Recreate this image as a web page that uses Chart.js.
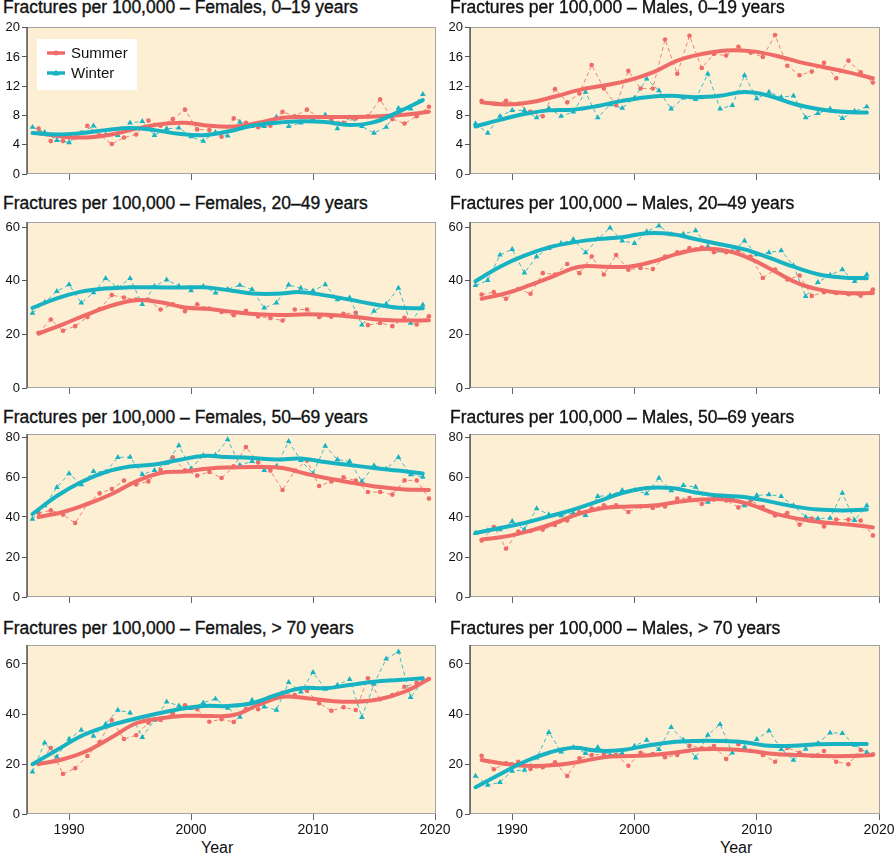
<!DOCTYPE html>
<html>
<head>
<meta charset="utf-8">
<script src="https://cdn.jsdelivr.net/npm/chart.js@4.4.0/dist/chart.umd.min.js"></script>
<style>
  body { margin: 0; background: #fff; width: 894px; height: 854px; position: relative; overflow: hidden;
         font-family: "Liberation Sans", Arial, sans-serif; }
  .title { position: absolute; font-size: 17.5px; line-height: 20px; color: #111; white-space: nowrap;
           -webkit-text-stroke: 0.35px #111; }
  .xlab { position: absolute; font-size: 16px; line-height: 20px; color: #111; }
  canvas { position: absolute; }
</style>
</head>
<body>
<script>
// x positions: winter points on the year, summer points mid-year
const winterYears = [1987, 1988, 1989, 1990, 1991, 1992, 1993, 1994, 1995, 1996, 1997, 1998, 1999, 2000, 2001, 2002, 2003,
  2004, 2005, 2006, 2007, 2008, 2009, 2010, 2011, 2012, 2013, 2014, 2015, 2016, 2017, 2018, 2019];
const summerYears = [1987.5, 1988.5, 1989.5, 1990.5, 1991.5, 1992.5, 1993.5, 1994.5, 1995.5, 1996.5, 1997.5, 1998.5, 1999.5,
  2000.5, 2001.5, 2002.5, 2003.5, 2004.5, 2005.5, 2006.5, 2007.5, 2008.5, 2009.5, 2010.5, 2011.5, 2012.5, 2013.5, 2014.5,
  2015.5, 2016.5, 2017.5, 2018.5, 2019.5];
// smoothed curves read every second year
const fitWinterYears = [1987, 1989, 1991, 1993, 1995, 1997, 1999, 2001, 2003, 2005, 2007, 2009, 2011, 2013, 2015, 2017, 2019];
const fitSummerYears = [1987.5, 1989.5, 1991.5, 1993.5, 1995.5, 1997.5, 1999.5, 2001.5, 2003.5, 2005.5, 2007.5, 2009.5,
  2011.5, 2013.5, 2015.5, 2017.5, 2019.5];

const yearTicks = [1990, 2000, 2010, 2020];
const yTicks0_19 = [0, 4, 8, 12, 16, 20];
const yTicks20_49 = [0, 20, 40, 60];
const yTicks50_69 = [0, 20, 40, 60, 80];
const yTicks70 = [0, 20, 40, 60];
const seriesLabels = ["Summer", "Winter"];
const panelTitles = [
  "Fractures per 100,000 – Females, 0–19 years",
  "Fractures per 100,000 – Males, 0–19 years",
  "Fractures per 100,000 – Females, 20–49 years",
  "Fractures per 100,000 – Males, 20–49 years",
  "Fractures per 100,000 – Females, 50–69 years",
  "Fractures per 100,000 – Males, 50–69 years",
  "Fractures per 100,000 – Females, > 70 years",
  "Fractures per 100,000 – Males, > 70 years",
];

// Females 0-19
const femSummer0_19 = [6.2, 4.5, 4.5, 5.0, 6.6, 5.3, 4.1, 5.0, 5.4, 7.3, 6.6, 7.5, 8.8, 6.1, 6.0, 5.1, 7.6, 7.0, 6.4, 6.6,
  8.5, 7.9, 8.8, 7.8, 7.4, 7.0, 7.6, 7.9, 10.2, 7.5, 6.9, 7.9, 9.2];
const femWinter0_19 = [6.4, 5.7, 4.6, 4.3, 5.6, 6.6, 5.4, 5.3, 7.0, 7.2, 5.3, 6.2, 6.3, 5.1, 4.5, 5.7, 5.2, 7.1, 6.5, 6.5,
  7.8, 6.5, 7.0, 7.5, 8.1, 6.2, 7.7, 6.5, 5.6, 6.4, 9.0, 8.9, 10.9];
const femSummerFit0_19 = [5.6, 5.1, 5.0, 5.4, 6.2, 6.8, 7.0, 6.6, 6.5, 7.0, 7.7, 7.8, 7.8, 7.8, 7.9, 8.1, 8.5];
const femWinterFit0_19 = [5.6, 5.4, 5.6, 6.0, 6.3, 6.0, 5.5, 5.3, 5.8, 6.6, 7.0, 7.2, 7.1, 6.7, 7.1, 8.5, 10.1];

// Males 0-19
const maleSummer0_19 = [10.0, 9.6, 10.0, 9.6, 8.5, 7.9, 11.6, 9.8, 11.0, 14.9, 11.7, 9.4, 14.1, 11.7, 11.7, 18.4, 13.7, 18.9,
  14.5, 16.4, 16.2, 17.4, 16.6, 16.0, 19.0, 14.8, 13.5, 14.0, 15.2, 13.1, 15.5, 13.9, 12.5];
const maleWinter0_19 = [6.9, 5.6, 7.9, 8.7, 8.7, 7.7, 9.0, 7.9, 8.5, 11.2, 7.7, 9.5, 9.0, 10.4, 13.0, 11.4, 8.9, 10.4, 10.2,
  13.7, 8.9, 9.4, 13.5, 10.3, 11.2, 10.5, 10.7, 7.7, 8.3, 8.9, 7.6, 8.6, 9.2];
const maleSummerFit0_19 = [9.8, 9.5, 9.8, 10.6, 11.5, 12.1, 12.8, 13.9, 15.5, 16.4, 16.9, 16.8, 16.2, 15.3, 14.6, 13.9, 13.1];
const maleWinterFit0_19 = [6.5, 7.4, 8.2, 8.7, 8.8, 9.3, 10.0, 10.5, 10.7, 10.5, 10.7, 11.2, 10.7, 9.6, 8.9, 8.5, 8.4];

// Females 20-49
const femSummer20_49 = [20.6, 25.6, 21.4, 23.1, 26.5, 29.5, 34.7, 33.8, 33.0, 32.9, 29.3, 31.3, 28.7, 31.3, 29.7, 28.4, 27.2,
  28.8, 26.7, 26.1, 25.2, 29.3, 29.3, 26.5, 26.6, 27.7, 28.1, 23.5, 24.3, 23.1, 26.2, 23.7, 26.8];
const femWinter20_49 = [28.0, 32.0, 36.1, 38.6, 31.8, 35.6, 41.0, 37.4, 41.0, 31.2, 38.0, 40.4, 38.1, 36.4, 38.0, 35.5, 36.9,
  38.4, 36.8, 29.9, 31.8, 38.5, 37.3, 36.3, 38.6, 33.0, 33.7, 23.6, 28.7, 31.4, 37.3, 24.2, 31.1];
const femSummerFit20_49 = [20.3, 23.8, 27.5, 30.8, 32.8, 32.0, 30.1, 29.5, 28.4, 27.5, 27.3, 27.5, 27.3, 26.5, 25.5, 25.2, 25.3];
const femWinterFit20_49 = [29.9, 33.5, 36.0, 37.2, 37.6, 37.6, 37.5, 37.6, 36.6, 35.3, 35.2, 35.8, 34.6, 33.0, 31.3, 30.0, 29.8];

// Males 20-49
const maleSummer20_49 = [34.9, 35.8, 33.3, 37.0, 35.2, 42.9, 42.4, 46.3, 42.9, 49.1, 42.4, 49.7, 44.2, 44.8, 44.4, 49.1, 50.7,
  52.3, 52.5, 50.7, 50.7, 51.3, 49.1, 41.1, 44.2, 40.5, 42.0, 34.4, 35.8, 35.5, 35.0, 34.5, 36.8];
const maleWinter20_49 = [38.3, 40.2, 49.7, 51.8, 43.0, 49.1, 52.2, 54.0, 55.5, 50.6, 55.6, 59.8, 55.0, 54.0, 58.4, 60.6, 57.3,
  57.5, 58.8, 52.8, 51.3, 50.9, 55.0, 49.8, 50.6, 51.3, 45.7, 34.2, 39.5, 42.2, 44.2, 39.8, 42.4];
const maleSummerFit20_49 = [33.3, 35.4, 38.5, 42.0, 45.3, 45.3, 45.3, 47.2, 50.1, 51.9, 51.3, 48.2, 43.5, 38.9, 36.4, 35.4, 35.5];
const maleWinterFit20_49 = [39.9, 45.3, 49.4, 52.5, 54.4, 55.6, 56.3, 57.8, 57.5, 55.6, 53.7, 51.8, 48.7, 45.3, 42.5, 41.3, 41.0];

// Females 50-69
const femSummer50_69 = [42.0, 43.3, 41.2, 37.0, 46.5, 51.8, 54.0, 58.2, 56.3, 57.8, 63.5, 69.8, 63.3, 60.7, 62.5, 59.5, 65.3,
  75.0, 67.3, 63.2, 53.5, 63.2, 68.2, 55.5, 57.8, 59.8, 58.2, 52.5, 52.5, 51.2, 58.3, 58.3, 49.2];
const femWinter50_69 = [39.0, 45.7, 54.8, 61.7, 56.2, 62.8, 62.5, 69.8, 70.0, 61.3, 63.3, 67.0, 75.7, 64.2, 70.8, 71.0, 78.7,
  66.0, 67.8, 63.3, 65.3, 77.8, 68.3, 61.7, 75.5, 68.7, 67.8, 57.8, 65.7, 64.0, 69.8, 61.2, 60.0];
const femSummerFit50_69 = [40.0, 42.5, 46.5, 51.5, 57.8, 62.0, 62.8, 64.3, 64.8, 65.0, 64.5, 61.5, 59.0, 56.8, 55.0, 53.8, 53.5];
const femWinterFit50_69 = [41.5, 50.5, 57.5, 62.5, 65.2, 66.2, 68.5, 70.5, 70.0, 69.5, 68.7, 69.2, 67.5, 66.0, 64.5, 63.2, 61.8];

// Males 50-69
const maleSummer50_69 = [28.3, 35.0, 24.2, 32.7, 33.0, 33.7, 36.0, 38.3, 42.5, 44.2, 45.8, 45.8, 42.5, 45.3, 44.5, 45.3, 49.2,
  49.5, 46.5, 48.7, 48.3, 44.8, 48.2, 45.0, 40.8, 42.0, 36.2, 39.2, 35.3, 38.7, 38.7, 38.2, 30.8];
const maleWinter50_69 = [32.0, 33.2, 33.7, 37.8, 33.7, 44.2, 41.2, 40.7, 42.0, 40.8, 50.3, 50.8, 53.3, 53.3, 51.7, 59.5, 53.2,
  55.8, 55.0, 47.5, 50.3, 50.0, 45.7, 50.8, 51.2, 50.3, 45.7, 40.0, 39.2, 39.5, 52.0, 38.3, 45.7];
const maleSummerFit50_69 = [28.7, 30.3, 33.2, 37.0, 41.7, 44.5, 45.3, 45.7, 47.5, 48.7, 48.7, 46.2, 41.7, 39.0, 37.3, 36.2, 34.8];
const maleWinterFit50_69 = [32.0, 34.5, 37.0, 40.3, 43.7, 47.8, 52.0, 54.5, 54.5, 52.3, 50.7, 50.0, 47.8, 45.3, 43.7, 43.3, 43.7];

// Females > 70
const femSummer70 = [20.0, 26.4, 16.0, 18.3, 23.2, 28.8, 37.6, 30.0, 31.5, 36.5, 37.6, 40.3, 43.5, 41.9, 36.9, 37.9, 36.8,
  42.0, 41.9, 46.7, 48.5, 47.6, 49.3, 44.3, 41.3, 42.7, 41.6, 54.3, 45.9, 47.6, 50.9, 52.5, 54.0];
const femWinter70 = [16.9, 28.5, 22.9, 30.0, 33.6, 31.2, 36.0, 41.6, 40.5, 30.7, 37.6, 44.9, 43.3, 42.3, 44.5, 46.1, 42.4,
  38.8, 45.6, 42.9, 41.6, 52.7, 48.9, 56.7, 50.0, 51.6, 53.9, 38.7, 52.0, 62.1, 64.9, 46.7, 53.2];
const femSummerFit70 = [20.0, 21.9, 25.3, 30.7, 36.3, 38.3, 39.3, 39.2, 39.6, 43.6, 46.9, 46.3, 45.2, 44.9, 46.0, 48.9, 54.0];
const femWinterFit70 = [19.9, 25.6, 31.2, 34.9, 37.6, 39.9, 41.9, 43.2, 43.2, 44.3, 47.6, 50.3, 50.3, 51.6, 52.9, 53.6, 54.3];

// Males > 70
const maleSummer70 = [23.3, 17.9, 20.3, 20.9, 18.0, 18.7, 20.7, 15.2, 22.3, 23.6, 23.9, 23.6, 19.3, 24.5, 24.0, 22.7, 23.6,
  27.3, 26.3, 27.2, 22.0, 27.9, 25.3, 23.6, 20.9, 26.5, 24.5, 23.3, 25.2, 20.9, 19.9, 25.6, 23.9];
const maleWinter70 = [15.2, 11.6, 12.7, 17.2, 17.6, 22.5, 32.7, 24.9, 26.7, 24.3, 26.7, 23.6, 24.3, 27.2, 29.6, 25.9, 34.7,
  29.6, 22.5, 31.6, 35.9, 24.5, 26.7, 29.9, 33.3, 25.9, 21.6, 26.0, 28.3, 32.5, 32.3, 27.6, 24.7];
const maleSummerFit70 = [21.6, 20.0, 19.2, 19.6, 20.9, 22.7, 23.2, 23.6, 24.7, 25.9, 25.9, 25.2, 24.0, 23.6, 23.2, 23.2, 23.6];
const maleWinterFit70 = [10.7, 15.9, 20.9, 24.5, 26.5, 25.3, 25.6, 27.3, 28.7, 29.2, 29.2, 28.7, 27.3, 27.3, 27.9, 28.0, 28.0];

const SUMMER = "#ef6b67";
const WINTER = "#17b3c3";
const SUMMER_THIN = "rgba(239,107,103,0.85)";
const WINTER_THIN = "rgba(23,179,195,0.85)";
const FONT = '"Liberation Sans", Arial, sans-serif';

const panels = [
  { summer: femSummer0_19, winter: femWinter0_19, summerFit: femSummerFit0_19, winterFit: femWinterFit0_19, yTicks: yTicks0_19, yMax: 20.1, legend: true },
  { summer: maleSummer0_19, winter: maleWinter0_19, summerFit: maleSummerFit0_19, winterFit: maleWinterFit0_19, yTicks: yTicks0_19, yMax: 20.1 },
  { summer: femSummer20_49, winter: femWinter20_49, summerFit: femSummerFit20_49, winterFit: femWinterFit20_49, yTicks: yTicks20_49, yMax: 62 },
  { summer: maleSummer20_49, winter: maleWinter20_49, summerFit: maleSummerFit20_49, winterFit: maleWinterFit20_49, yTicks: yTicks20_49, yMax: 62 },
  { summer: femSummer50_69, winter: femWinter50_69, summerFit: femSummerFit50_69, winterFit: femWinterFit50_69, yTicks: yTicks50_69, yMax: 81.5 },
  { summer: maleSummer50_69, winter: maleWinter50_69, summerFit: maleSummerFit50_69, winterFit: maleWinterFit50_69, yTicks: yTicks50_69, yMax: 81.5 },
  { summer: femSummer70, winter: femWinter70, summerFit: femSummerFit70, winterFit: femWinterFit70, yTicks: yTicks70, yMax: 67.6 },
  { summer: maleSummer70, winter: maleWinter70, summerFit: maleSummerFit70, winterFit: maleWinterFit70, yTicks: yTicks70, yMax: 67.6 },
];

// page layout of the 4x2 grid
const rows = [
  { top: 17, height: 165, axisH: 8, titleTop: -3 },
  { top: 212, height: 184, axisH: 8, titleTop: 193 },
  { top: 424, height: 181, axisH: 8, titleTop: 407 },
  { top: 635, height: 219, axisH: 40, titleTop: 618 },
];
const cols = [
  { left: 0, width: 460, axisW: 27, padRight: 24, titleLeft: 3, yearLeft: 201 },
  { left: 447, width: 447, axisW: 23, padRight: 14, titleLeft: 450, yearLeft: 720 },
];

function pairs(xs, ys) {
  return ys.map((v, i) => ({ x: xs[i], y: v }));
}

// cream panel background and frame
const panelFrame = {
  id: "panelFrame",
  beforeDraw(chart) {
    const a = chart.chartArea, ctx = chart.ctx;
    ctx.save();
    ctx.fillStyle = "#fdefd3";
    ctx.fillRect(a.left, a.top, a.right - a.left, a.bottom - a.top);
    ctx.restore();
  },
  afterDraw(chart) {
    const a = chart.chartArea, ctx = chart.ctx;
    ctx.save();
    ctx.strokeStyle = "#a3a3a3";
    ctx.lineWidth = 1;
    ctx.strokeRect(a.left + 0.5, a.top + 0.5, a.right - a.left - 1, a.bottom - a.top - 1);
    ctx.strokeStyle = "#5a5a5a";
    ctx.lineWidth = 1.5;
    ctx.beginPath();
    ctx.moveTo(a.left, a.top);
    ctx.lineTo(a.left, a.bottom);
    ctx.stroke();
    ctx.restore();
  }
};

// white legend box in the top left of the first panel
const insetLegend = {
  id: "insetLegend",
  afterDatasetsDraw(chart, args, opts) {
    if (!opts.show) return;
    const a = chart.chartArea, ctx = chart.ctx;
    const x = a.left + 10, y = a.top + 12;
    ctx.save();
    ctx.fillStyle = "#fff";
    ctx.fillRect(x, y, 100, 51);
    ctx.font = "15px " + FONT;
    ctx.textBaseline = "middle";
    [SUMMER, WINTER].forEach((col, i) => {
      const cy = y + 14 + i * 20;
      ctx.strokeStyle = col;
      ctx.lineWidth = 3.5;
      ctx.beginPath();
      ctx.moveTo(x + 10, cy);
      ctx.lineTo(x + 28, cy);
      ctx.stroke();
      ctx.fillStyle = col;
      ctx.beginPath();
      if (i === 0) {
        ctx.arc(x + 19, cy, 2.5, 0, Math.PI * 2);
      } else {
        ctx.moveTo(x + 19, cy - 3.5);
        ctx.lineTo(x + 22.5, cy + 2.5);
        ctx.lineTo(x + 15.5, cy + 2.5);
        ctx.closePath();
      }
      ctx.fill();
      ctx.fillStyle = "#111";
      ctx.fillText(seriesLabels[i], x + 34, cy + 0.5);
    });
    ctx.restore();
  }
};

panels.forEach((p, i) => {
  const row = rows[Math.floor(i / 2)], col = cols[i % 2];
  const bottomRow = Math.floor(i / 2) === 3;

  const title = document.createElement("div");
  title.className = "title";
  title.style.left = col.titleLeft + "px";
  title.style.top = row.titleTop + "px";
  title.textContent = panelTitles[i];
  document.body.appendChild(title);

  if (bottomRow) {
    const yl = document.createElement("div");
    yl.className = "xlab";
    yl.style.left = col.yearLeft + "px";
    yl.style.top = "838px";
    yl.textContent = "Year";
    document.body.appendChild(yl);
  }

  const canvas = document.createElement("canvas");
  canvas.width = col.width;
  canvas.height = row.height;
  canvas.style.left = col.left + "px";
  canvas.style.top = row.top + "px";
  document.body.appendChild(canvas);

  new Chart(canvas, {
    type: "line",
    data: {
      datasets: [
        {
          label: seriesLabels[0], data: pairs(summerYears, p.summer),
          borderColor: SUMMER_THIN, borderWidth: 1, borderDash: [4, 3], tension: 0,
          pointStyle: "circle", pointRadius: 2.3, pointBackgroundColor: SUMMER, pointBorderWidth: 0, order: 4
        },
        {
          label: seriesLabels[1], data: pairs(winterYears, p.winter),
          borderColor: WINTER_THIN, borderWidth: 1, borderDash: [4, 3], tension: 0,
          pointStyle: "triangle", pointRadius: 3.3, pointBackgroundColor: WINTER, pointBorderWidth: 0, order: 3
        },
        {
          label: seriesLabels[0] + " fit", data: pairs(fitSummerYears, p.summerFit),
          borderColor: SUMMER, borderWidth: 4, tension: 0.4, pointRadius: 0, borderCapStyle: "round", order: 2
        },
        {
          label: seriesLabels[1] + " fit", data: pairs(fitWinterYears, p.winterFit),
          borderColor: WINTER, borderWidth: 4, tension: 0.4, pointRadius: 0, borderCapStyle: "round", order: 1
        },
      ]
    },
    options: {
      responsive: false,
      animation: false,
      layout: { padding: { top: 10, right: col.padRight, bottom: 0, left: 0 } },
      plugins: {
        legend: { display: false },
        tooltip: { enabled: false },
        insetLegend: { show: !!p.legend },
      },
      scales: {
        x: {
          type: "linear", min: 1986.55, max: 2020.08,
          afterBuildTicks: s => { s.ticks = yearTicks.map(v => ({ value: v })); },
          afterFit: s => { s.height = row.axisH; s.paddingLeft = 0; s.paddingRight = 0; },
          ticks: {
            display: bottomRow, autoSkip: false, maxRotation: 0, padding: 2,
            color: "#111", font: { family: FONT, size: 14 }, callback: v => String(v)
          },
          grid: { display: true, drawOnChartArea: false, drawTicks: true, tickLength: 6, tickColor: "#666", color: "#666" },
          border: { display: false },
        },
        y: {
          type: "linear", min: 0, max: p.yMax,
          afterBuildTicks: s => { s.ticks = p.yTicks.map(v => ({ value: v })); },
          afterFit: s => { s.width = col.axisW; s.paddingTop = 0; s.paddingBottom = 0; },
          ticks: { padding: 2, color: "#111", font: { family: FONT, size: 13 }, callback: v => String(v) },
          grid: { display: true, drawOnChartArea: false, drawTicks: true, tickLength: 5, tickColor: "#555", color: "#555" },
          border: { display: false },
        }
      }
    },
    plugins: [panelFrame, insetLegend]
  });
});
</script>
</body>
</html>
